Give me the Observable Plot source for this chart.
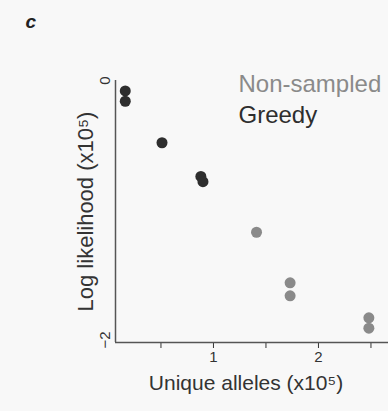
<!DOCTYPE html>
<html>
<head>
<meta charset="utf-8">
<script src="https://cdn.jsdelivr.net/npm/d3@7"></script>
<script src="https://cdn.jsdelivr.net/npm/@observablehq/plot@0.6"></script>
<style>
  html, body { margin: 0; padding: 0; background: #f8f8f8; }
  svg { display: block; }
</style>
</head>
<body>
<div id="chart"></div>
<script>
// Data (x: unique alleles ×10⁵, y: log likelihood ×10⁵)
const seriesNames = ["Non-sampled", "Greedy"];
const seriesColors = ["#8a8a8a", "#2e2e2e"];

const greedyX = [0.16, 0.16, 0.51, 0.88, 0.90];
const greedyY = [-0.08, -0.16, -0.48, -0.74, -0.78];

const nonSampledX = [1.41, 1.73, 1.73, 2.48, 2.48];
const nonSampledY = [-1.17, -1.56, -1.66, -1.83, -1.91];

const xTicks = [0.5, 1, 1.5, 2, 2.5];
const xTickLabels = {1: "1", 2: "2"};
const yTicks = [0, -0.5, -1, -1.5, -2];
const yTickLabels = {"0": "0", "-2": "−2"};

const xDomain = [0.067, 2.667];
const yDomain = [-2.02, 0];

const points = [
  ...greedyX.map((x, i) => ({x, y: greedyY[i], s: "Greedy"})),
  ...nonSampledX.map((x, i) => ({x, y: nonSampledY[i], s: "Non-sampled"}))
];

const chart = Plot.plot({
  width: 388,
  height: 411,
  marginLeft: 115,
  marginRight: 0,
  marginTop: 80,
  marginBottom: 69,
  style: {background: "#f8f8f8", fontFamily: "Liberation Sans, Arial, sans-serif", fontSize: "15px", color: "#333"},
  x: {domain: xDomain, ticks: xTicks, tickFormat: d => xTickLabels[d] ?? "", tickSize: 6, tickPadding: 3, label: null},
  y: {domain: yDomain, ticks: yTicks, tickFormat: d => yTickLabels[String(d)] ?? "", tickSize: 0, tickRotate: -90, tickPadding: 6, label: null},
  color: {domain: seriesNames, range: seriesColors},
  marks: [
    Plot.ruleX([xDomain[0]], {stroke: "#555", strokeWidth: 1.5, y1: yDomain[0], y2: yDomain[1]}),
    Plot.ruleY([yDomain[0]], {stroke: "#555", strokeWidth: 1.5}),
    Plot.dot(points, {x: "x", y: "y", fill: "s", r: 5.5, stroke: "none"}),
    // legend as coloured text
    Plot.text([seriesNames[0]], {frameAnchor: "top-left", dx: 123, dy: -6, text: d => d, fill: seriesColors[0], fontSize: 24, textAnchor: "start"}),
    Plot.text([seriesNames[1]], {frameAnchor: "top-left", dx: 123, dy: 25, text: d => d, fill: seriesColors[1], fontSize: 24, textAnchor: "start"}),
    // axis titles
    Plot.text(["Unique alleles (x10⁵)"], {frameAnchor: "bottom", dx: -6, dy: 47, text: d => d, fontSize: 21, fill: "#333", textAnchor: "middle"}),
    Plot.text(["Log likelihood (x10⁵)"], {frameAnchor: "left", dx: -30, rotate: -90, text: d => d, fontSize: 22, fill: "#333", textAnchor: "middle"}),
    // panel label
    Plot.text(["c"], {frameAnchor: "top-left", dx: -90, dy: -66, text: d => d, fontSize: 19, fontWeight: "bold", fontStyle: "italic", fill: "#222"})
  ]
});
document.getElementById("chart").appendChild(chart);
</script>
</body>
</html>
